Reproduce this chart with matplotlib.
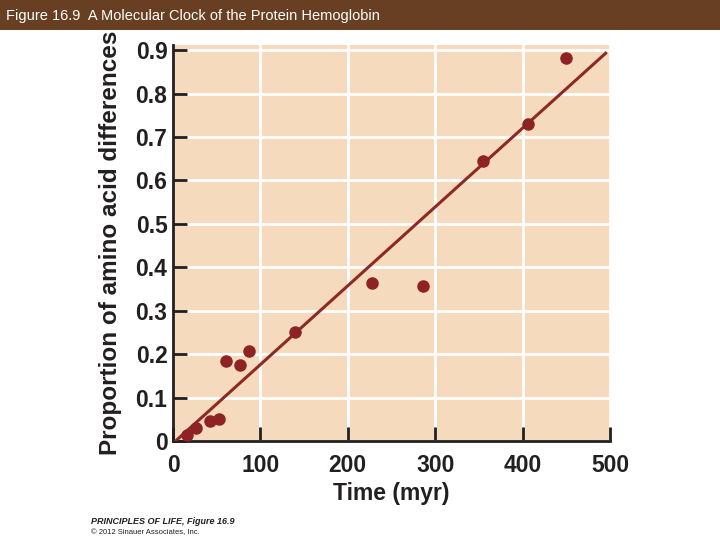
import matplotlib
matplotlib.use("Agg")
import matplotlib.pyplot as plt
from matplotlib.patches import Rectangle

# data
time_myr = [15.7, 26.4, 42, 53, 61, 77, 87, 140, 227.5, 286.6, 355, 406, 450]
proportion = [0.014, 0.029, 0.046, 0.050, 0.185, 0.176, 0.207, 0.252, 0.364, 0.357, 0.644, 0.731, 0.882]
fit_x = [3, 495]
fit_y = [0.0, 0.893]
x_ticks = [0, 100, 200, 300, 400, 500]
y_ticks = [0, 0.1, 0.2, 0.3, 0.4, 0.5, 0.6, 0.7, 0.8, 0.9]
y_labels = ["0", "0.1", "0.2", "0.3", "0.4", "0.5", "0.6", "0.7", "0.8", "0.9"]

plt.rcParams['font.family'] = ['Liberation Sans', 'DejaVu Sans']

fig = plt.figure(figsize=(7.2, 5.4), dpi=100)

# brown title bar
fig.patches.append(Rectangle((0, 1 - 30 / 540), 1, 30 / 540, transform=fig.transFigure,
                             facecolor='#683F22', edgecolor='none', zorder=0))
fig.text(6 / 720, 1 - 16 / 540, "Figure 16.9  A Molecular Clock of the Protein Hemoglobin",
         color='white', fontsize=10.5, va='center', ha='left')

ax = fig.add_axes([173 / 720, 1 - 441 / 540, 437 / 720, 396 / 540])
ax.set_facecolor('#F6DABD')

ax.plot(fit_x, fit_y, color='#8C2A25', lw=2.2, zorder=3)
ax.plot(time_myr, proportion, 'o', color='#8E2323', ms=8, zorder=4, clip_on=False)

ax.set_xlim(0, 500)
ax.set_ylim(0, 0.912)
ax.set_xticks(x_ticks)
ax.set_yticks(y_ticks)
ax.set_yticklabels(y_labels)
ax.grid(True, color='white', lw=2)
ax.set_axisbelow(True)

for s in ['top', 'right']:
    ax.spines[s].set_visible(False)
for s in ['left', 'bottom']:
    ax.spines[s].set_linewidth(2)
    ax.spines[s].set_color('#231F20')

ax.tick_params(direction='in', length=10, width=2, color='#231F20',
               labelsize=16.5, pad=4)
ax.tick_params(axis='x', pad=9)
for lab in ax.get_xticklabels() + ax.get_yticklabels():
    lab.set_fontweight('bold')
    lab.set_color('#231F20')

ax.set_xlabel("Time (myr)", fontsize=16.5, fontweight='bold', color='#231F20', labelpad=4)
ax.set_ylabel("Proportion of amino acid differences", fontsize=17.5, fontweight='bold',
              color='#231F20', labelpad=10)

fig.text(91 / 720, 1 - 521 / 540, "PRINCIPLES OF LIFE, Figure 16.9", fontsize=6.5,
         fontweight='bold', style='italic', color='#231F20', va='center')
fig.text(91 / 720, 1 - 533 / 540, "\u00a9 2012 Sinauer Associates, Inc.", fontsize=5.5,
         color='#231F20', va='center')

fig.savefig("out.png", dpi=100)
